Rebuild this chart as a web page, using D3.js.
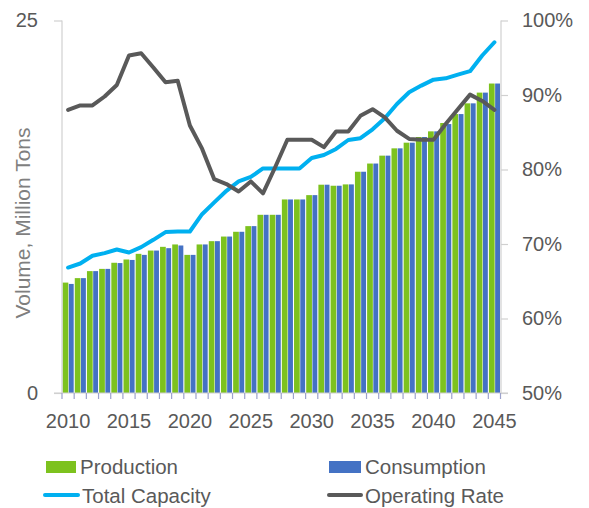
<!DOCTYPE html>
<html><head><meta charset="utf-8">
<script src="https://cdn.jsdelivr.net/npm/d3@7"></script>
<style>
html,body{margin:0;padding:0;background:#fff;}
svg text{font-family:"Liberation Sans",Arial,sans-serif;}
</style></head>
<body><svg id="c" width="589" height="508"></svg>
<script>
const years = d3.range(2010, 2046);
const xTickLabels = [2010, 2015, 2020, 2025, 2030, 2035, 2040, 2045];
const leftTicks = [0, 25];
const rightTicks = [0.5, 0.6, 0.7, 0.8, 0.9, 1.0];
const production = [7.41,7.71,8.18,8.33,8.74,8.96,9.34,9.56,9.81,9.97,9.27,9.97,10.19,10.5,10.82,11.2,11.96,11.96,12.99,12.99,13.28,13.98,13.91,14.0,14.85,15.40,15.93,16.42,16.8,17.18,17.56,18.12,18.72,19.44,20.16,20.77];
const consumption = [7.32,7.71,8.18,8.33,8.72,8.93,9.27,9.56,9.72,9.90,9.27,9.97,10.19,10.5,10.82,11.2,11.96,11.96,12.99,12.99,13.28,13.98,13.91,14.0,14.85,15.40,15.93,16.42,16.8,17.18,17.56,18.05,18.72,19.44,20.16,20.77];
const capacity = [8.42,8.69,9.21,9.39,9.63,9.43,9.79,10.28,10.8,10.84,10.84,12.0,12.79,13.57,14.2,14.5,15.07,15.07,15.07,15.07,15.77,15.97,16.38,16.98,17.1,17.7,18.44,19.4,20.18,20.63,21.03,21.12,21.37,21.6,22.65,23.54];
const operatingRate = [0.880,0.886,0.886,0.898,0.9135,0.953,0.956,0.937,0.917,0.919,0.859,0.828,0.787,0.7805,0.7705,0.784,0.768,0.803,0.840,0.840,0.840,0.830,0.851,0.851,0.872,0.881,0.870,0.852,0.841,0.840,0.840,0.861,0.881,0.9005,0.892,0.880];

const C = {prod:"#7DC21E", cons:"#4472C4", cap:"#00B0F0", rate:"#595959", text:"#595959", axis:"#D0D0D0", tick:"#9CA2CC"};
const svg = d3.select("#c");
const x = d3.scaleBand().domain(years).range([62, 500.5]).paddingInner(0).paddingOuter(0);
const yL = d3.scaleLinear().domain([0, 25]).range([393, 20.5]);
const yR = d3.scaleLinear().domain([0.5, 1.0]).range([393, 20.5]);
const bw = x.bandwidth();

// bars
const g = svg.append("g");
years.forEach((yr, i) => {
  const x0 = x(yr);
  g.append("rect").attr("x", x0 + 0.6).attr("y", yL(production[i])).attr("width", bw*0.47)
    .attr("height", yL(0) - yL(production[i])).attr("fill", C.prod);
  g.append("rect").attr("x", x0 + 0.6 + bw*0.47 + 0.5).attr("y", yL(consumption[i])).attr("width", bw*0.40)
    .attr("height", yL(0) - yL(consumption[i])).attr("fill", C.cons);
});

// axes lines
svg.append("line").attr("x1", 54).attr("x2", 508).attr("y1", yL(0)).attr("y2", yL(0)).attr("stroke", C.axis).attr("stroke-width", 1.2);
svg.append("line").attr("x1", 62).attr("x2", 62).attr("y1", yL(25)).attr("y2", yL(0)).attr("stroke", C.axis).attr("stroke-width", 1.2);
svg.append("line").attr("x1", 501).attr("x2", 501).attr("y1", yR(1)).attr("y2", yR(0.5)).attr("stroke", C.axis).attr("stroke-width", 1.2);

// left axis
const la = svg.append("g").attr("transform", "translate(62,0)")
  .call(d3.axisLeft(yL).tickValues(leftTicks).tickSize(8).tickPadding(16).tickFormat(d3.format("d")));
la.select(".domain").remove();
la.selectAll("line").attr("stroke", C.axis).attr("stroke-width", 1.2);
la.selectAll("text").attr("fill", C.text).style("font-size", "20px");

// right axis
const ra = svg.append("g").attr("transform", "translate(501,0)")
  .call(d3.axisRight(yR).tickValues(rightTicks).tickSize(7).tickPadding(14).tickFormat(d3.format(".0%")));
ra.select(".domain").remove();
ra.selectAll("line").attr("stroke", C.axis).attr("stroke-width", 1.2);
ra.selectAll("text").attr("fill", C.text).style("font-size", "20px");

// x ticks at category boundaries
const bounds = years.map(y => x(y)).concat([x(years[years.length-1]) + bw]);
svg.append("g").selectAll("line").data(bounds).join("line")
  .attr("x1", d => d).attr("x2", d => d).attr("y1", yL(0)).attr("y2", yL(0) + 6)
  .attr("stroke", C.tick).attr("stroke-width", 1.2);
svg.append("g").selectAll("text").data(xTickLabels).join("text")
  .attr("x", d => x(d) + bw/2).attr("y", 428).attr("text-anchor", "middle")
  .attr("fill", C.text).style("font-size", "20px").text(d => d);

// lines
const capLine = d3.line().x((d, i) => x(years[i]) + bw/2).y(d => yL(d));
svg.append("path").attr("d", capLine(capacity)).attr("fill", "none").attr("stroke", C.cap)
  .attr("stroke-width", 4).attr("stroke-linejoin", "round").attr("stroke-linecap", "round");
const rateLine = d3.line().x((d, i) => x(years[i]) + bw/2).y(d => yR(d));
svg.append("path").attr("d", rateLine(operatingRate)).attr("fill", "none").attr("stroke", C.rate)
  .attr("stroke-width", 4).attr("stroke-linejoin", "round").attr("stroke-linecap", "round");

// y title
svg.append("text").attr("transform", "translate(30,223) rotate(-90)").attr("text-anchor", "middle")
  .attr("fill", "#7F7F7F").style("font-size", "21px").text("Volume, Million Tons");

// legend
const lg = svg.append("g");
lg.append("rect").attr("x", 46).attr("y", 461).attr("width", 30).attr("height", 12).attr("fill", C.prod);
lg.append("text").attr("x", 80).attr("y", 474).attr("fill", C.text).style("font-size", "20.5px").text("Production");
lg.append("rect").attr("x", 329).attr("y", 461).attr("width", 32).attr("height", 12).attr("fill", C.cons);
lg.append("text").attr("x", 365).attr("y", 474).attr("fill", C.text).style("font-size", "20.5px").text("Consumption");
lg.append("line").attr("x1", 45).attr("x2", 78).attr("y1", 495).attr("y2", 495).attr("stroke", C.cap).attr("stroke-width", 4).attr("stroke-linecap", "round");
lg.append("text").attr("x", 82).attr("y", 503).attr("fill", C.text).style("font-size", "20.5px").text("Total Capacity");
lg.append("line").attr("x1", 329).attr("x2", 361).attr("y1", 495).attr("y2", 495).attr("stroke", C.rate).attr("stroke-width", 4).attr("stroke-linecap", "round");
lg.append("text").attr("x", 365).attr("y", 503).attr("fill", C.text).style("font-size", "20.5px").text("Operating Rate");
</script></body></html>
